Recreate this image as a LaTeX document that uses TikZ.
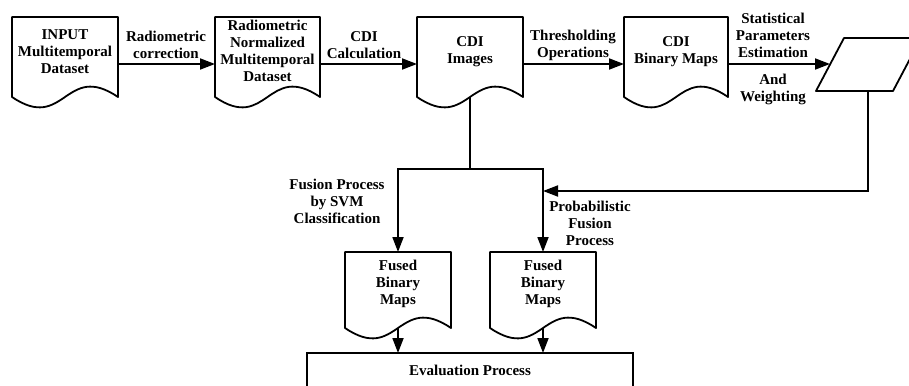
\documentclass[tikz,border=0pt]{standalone}
\usepackage{fontspec}
\setmainfont{Liberation Serif}
\usetikzlibrary{arrows.meta,calc}
\newcommand\docout[1]{\draw[lw,line join=round] (#1.south west) -- (#1.north west) -- (#1.north east) -- (#1.south east) .. controls ($(#1.south)+(0,-36)$) and ($(#1.south)+(0,36)$) .. (#1.south west) -- cycle;}
\begin{document}
\begin{tikzpicture}[x=1pt,y=-1pt,
  lw/.style={line width=1.8pt},
  arr/.style={lw,-{Triangle[length=15pt,width=11pt]}},
  txt/.style={font=\fontsize{15}{17}\selectfont\bfseries, align=center, inner sep=0pt},
  docbox/.style={minimum width=#1, minimum height=80pt, inner sep=0pt, outer sep=0pt},
  fusedbox/.style={minimum width=106pt, minimum height=76pt, inner sep=0pt, outer sep=0pt},
]
\fill[white] (0,0) rectangle (909,385);
\clip (0,0) rectangle (909,385);
\useasboundingbox (0,0) rectangle (909,385);

% top row documents
\node[docbox=106pt] (d1) at (65,57) {};
\node[docbox=105pt] (d2) at (267.5,57) {};
\node[docbox=106pt] (d3) at (470,57) {};
\node[docbox=104pt] (d4) at (676,57) {};
\docout{d1}\docout{d2}\docout{d3}\docout{d4}
\node[txt] (t1) at ($(d1)+(0,-5)$) {INPUT\\Multitemporal\\Dataset};
\node[txt] (t2) at ($(d2)+(0,-6)$) {Radiometric\\Normalized\\Multitemporal\\Dataset};
\node[txt] (t3) at ($(d3)+(0,-5)$) {CDI\\Images};
\node[txt] (t4) at ($(d4)+(0,-5)$) {CDI\\Binary Maps};

% parallelogram
\coordinate (p1) at (816,91);
\coordinate (p2) at (844,38);
\coordinate (p3) at (921,38);
\coordinate (p4) at (893,91);
\draw[lw,line join=round] (p1) -- (p2) -- (p3) -- (p4) -- cycle;
\coordinate (pA) at (830,64);
\coordinate (pB) at (868,91);

% top arrows
\draw[arr] ([yshift=-7pt]d1.east) -- ([yshift=-7pt]d2.west);
\draw[arr] ([yshift=-7pt]d2.east) -- ([yshift=-7pt]d3.west);
\draw[arr] ([yshift=-7pt]d3.east) -- ([yshift=-7pt]d4.west);
\draw[arr] ([yshift=-7pt]d4.east) -- (pA);

\node[txt] (l1) at (166,45) {Radiometric\\correction};
\node[txt] (l2) at (364,45) {CDI\\Calculation};
\node[txt] (l3) at (573,45) {Thresholding\\Operations};
\node[txt] (l4) at (773,35) {Statistical\\Parameters\\Estimation};
\node[txt] (l5) at (773,89) {And\\Weighting};

% fused documents
\node[fusedbox] (f1) at (398,290) {};
\node[fusedbox] (f2) at (543,290) {};
\docout{f1}\docout{f2}
\node[txt] (tf1) at ($(f1)+(0,-6)$) {Fused\\Binary\\Maps};
\node[txt] (tf2) at ($(f2)+(0,-6)$) {Fused\\Binary\\Maps};

% evaluation
\node[draw,lw,minimum width=326pt,minimum height=34pt,inner sep=0pt,outer sep=0pt] (ev) at (470,370) {};
\node[txt] (tev) at (470,370) {Evaluation Process};

% branching
\coordinate (j) at (470,169);
\draw[lw] (d3.south) -- (j);
\draw[arr] (j) -| (f1.north);
\draw[arr] (j) -| (f2.north);
\coordinate (k) at (543,191);
\draw[arr] (pB) |- (k);

\node[txt] (l6) at (337,201) {Fusion Process\\by SVM\\Classification};
\node[txt] (l7) at (590,223) {Probabilistic\\Fusion\\Process};

\draw[arr] (f1.south) -- (f1.south |- ev.north);
\draw[arr] (f2.south) -- (f2.south |- ev.north);
\end{tikzpicture}
\end{document}
